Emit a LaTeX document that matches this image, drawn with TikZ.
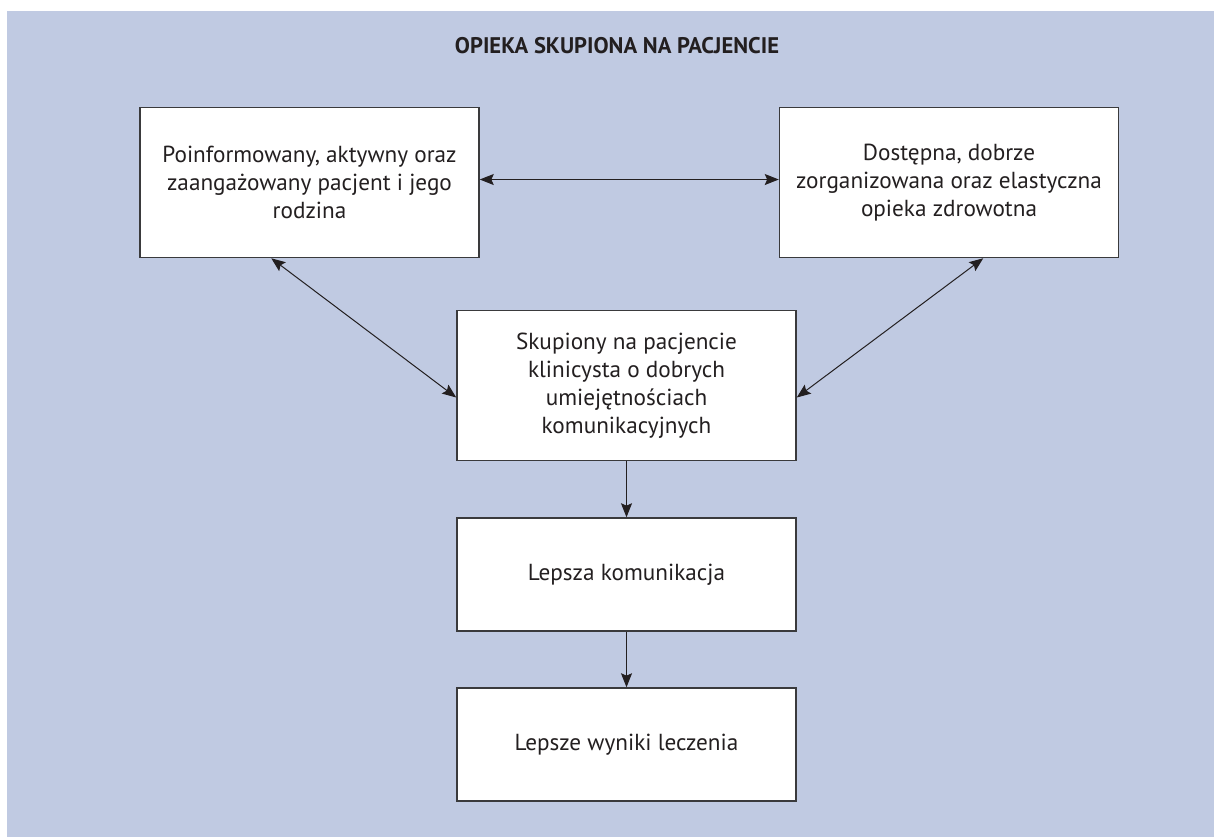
\documentclass[tikz,border=0pt]{standalone}
\usepackage{fontspec}
\setmainfont{PT Sans}
\usetikzlibrary{arrows.meta}
\definecolor{bgblue}{HTML}{C0CAE2}
\definecolor{txt}{HTML}{231F20}
\definecolor{frame}{HTML}{3A3A3C}
\tikzset{
  box/.style={draw=frame, line width=0.75pt, fill=white, text=txt, align=center,
    minimum width=169.5pt, font=\fontsize{11.6}{14}\selectfont, inner sep=0pt},
  conn/.style={line width=0.5pt, draw=txt, -{Stealth[length=7pt,width=5.5pt,inset=1.2pt]}},
  biconn/.style={line width=0.5pt, draw=txt, {Stealth[length=7pt,width=5.5pt,inset=1.2pt]}-{Stealth[length=7pt,width=5.5pt,inset=1.2pt]}},
}
\begin{document}
\begin{tikzpicture}[x=0.5pt,y=-0.5pt]
\useasboundingbox (0,0) rectangle (1214,837);
\fill[bgblue] (7,11) rectangle (1214,837);
\node[text=txt, font=\bfseries\fontsize{11.3}{13}\selectfont] (title) at (617,46) {OPIEKA SKUPIONA NA PACJENCIE};
\node[box, minimum height=75pt] (b1) at (309.5,182.5) {Poinformowany, aktywny oraz\\zaangażowany pacjent i jego\\rodzina};
\node[box, minimum height=75pt] (b2) at (949,182.5) {Dostępna, dobrze\\zorganizowana oraz elastyczna\\opieka zdrowotna};
\node[box, minimum height=75pt] (b3) at (626.5,385.5) {Skupiony na pacjencie\\klinicysta o dobrych\\umiejętnościach\\komunikacyjnych};
\node[box, minimum height=56.5pt] (b4) at (626.5,574.5) {Lepsza komunikacja};
\node[box, minimum height=56.5pt] (b5) at (626.5,744.5) {Lepsze wyniki leczenia};
\coordinate (l1) at ([xshift=66pt]b1.south west);
\coordinate (l3) at ([yshift=-6pt]b3.west);
\coordinate (r2) at ([xshift=-68pt]b2.south east);
\coordinate (r3) at ([yshift=-6pt]b3.east);
\draw[biconn] ([yshift=1.5pt]b1.east) -- ([yshift=1.5pt]b2.west);
\draw[biconn] (l1) -- (l3);
\draw[biconn] (r2) -- (r3);
\draw[conn] (b3) -- (b4);
\draw[conn] (b4) -- (b5);
\end{tikzpicture}
\end{document}
